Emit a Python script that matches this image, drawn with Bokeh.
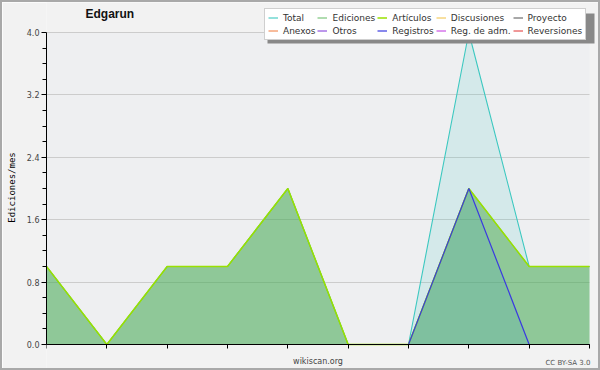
from bokeh.plotting import figure
from bokeh.models import (FixedTicker, PrintfTickFormatter, Legend, LegendItem,
                          Label, BoxAnnotation, Range1d, CustomJSTickFormatter)
from bokeh.embed import file_html
from bokeh.resources import INLINE

# ---- data ----
months = [0, 1, 2, 3, 4, 5, 6, 7, 8, 9]
total = [1, 0, 1, 1, 2, 0, 0, 4, 1, 1]
ediciones = [1, 0, 1, 1, 2, 0, 0, 2, 1, 1]
articulos = [1, 0, 1, 1, 2, 0, 0, 2, 1, 1]
discusiones = [0, 0, 0, 0, 0, 0, 0, 0, 0, 0]
proyecto = [0, 0, 0, 0, 0, 0, 0, 0, 0, 0]
anexos = [0, 0, 0, 0, 0, 0, 0, 0, 0, 0]
otros = [0, 0, 0, 0, 0, 0, 0, 0, 0, 0]
registros = [0, 0, 0, 0, 0, 0, 0, 2, 0, 0]
reg_adm = [0, 0, 0, 0, 0, 0, 0, 0, 0, 0]
reversiones = [0, 0, 0, 0, 0, 0, 0, 0, 0, 0]
y_ticks = [0.0, 0.8, 1.6, 2.4, 3.2, 4.0]
y_minor = [0.2, 0.4, 0.6, 1.0, 1.2, 1.4, 1.8, 2.0, 2.2, 2.6, 2.8, 3.0, 3.4, 3.6, 3.8]
x_first, x_last = months[0], months[-1]
y_low, y_high = y_ticks[0], y_ticks[-1]

B = 2                # outer border width (drawn inside the 600x370 box)
W, H = 600, 370
LEFT = 46 - B        # y-axis panel width
PX = 78.0            # pixels per y unit
p = figure(width=W, height=H, output_backend="svg", toolbar_location=None,
           x_range=Range1d(0, 9 * (W - LEFT) / 543),
           y_range=Range1d(-(H - (344 - B)) / PX, 4 + (32 - B) / PX),
           x_axis_location="above", title_location=None,
           min_border_left=LEFT, min_border_right=0, min_border_top=0,
           min_border_bottom=0)
p.styles = {"border": f"{B}px solid #a9a9a9"}
p.background_fill_color = "#f2f2f2"
p.border_fill_color = "#f2f2f2"
p.outline_line_color = None

# plotting area background
plot_bg = BoxAnnotation(left=x_first, right=x_last, bottom=y_low, top=y_high,
                        fill_color="#eeeff1", fill_alpha=1, line_color=None,
                        level="image")
p.add_layout(plot_bg)

# zero series first (hidden under the axis line)
r_disc = p.line(months, discusiones, line_color="#f0c040", line_width=1)
r_proy = p.line(months, proyecto, line_color="#505050", line_width=1)
r_anex = p.line(months, anexos, line_color="#f07838", line_width=1)
r_otros = p.line(months, otros, line_color="#7a30d8", line_width=1)
r_regadm = p.line(months, reg_adm, line_color="#c030e0", line_width=1)
r_rev = p.line(months, reversiones, line_color="#e03030", line_width=1)

# areas and lines
p.varea(x=months, y1=0, y2=total, fill_color="#40c8c0", fill_alpha=0.15)
r_total = p.line(months, total, line_color="#3cc8c0", line_width=1.1)
p.varea(x=months, y1=0, y2=ediciones, fill_color="#4aa845", fill_alpha=0.5)
r_edic = p.line(months, ediciones, line_color="#70c070", line_width=1.1)
r_art = p.line(months, articulos, line_color="#99e000", line_width=1.5)
p.varea(x=months, y1=0, y2=registros, fill_color="#40a0c0", fill_alpha=0.2)
r_reg = p.line(months, registros, line_color="#3a3ae0", line_width=1.2)

# axes
yax = p.yaxis[0]
yax.bounds = (y_low, y_high)
yax.ticker = FixedTicker(ticks=y_ticks, minor_ticks=y_minor)
yax.formatter = PrintfTickFormatter(format="%.1f")
yax.major_label_text_font = "DejaVu Sans"
yax.major_label_text_font_size = "8px"
yax.major_label_text_color = "#444444"
yax.major_label_standoff = 2
yax.axis_line_color = "black"
yax.major_tick_line_color = "black"
yax.minor_tick_line_color = "black"
yax.major_tick_out = 5
yax.major_tick_in = 0
yax.minor_tick_out = 4
yax.minor_tick_in = 0
yax.axis_label = "Ediciones/mes"
yax.axis_label_text_font = "DejaVu Sans Mono"
yax.axis_label_text_font_size = "9px"
yax.axis_label_text_font_style = "normal"
yax.axis_label_text_color = "black"
yax.axis_label_standoff = 7

xax = p.xaxis[0]
xax.fixed_location = 0
xax.bounds = (x_first, x_last)
xax.ticker = FixedTicker(ticks=months, minor_ticks=[])
xax.formatter = CustomJSTickFormatter(code="return ''")
xax.major_label_text_font_size = "1px"
xax.major_label_standoff = 0
xax.major_tick_out = 0
xax.major_tick_in = 4
xax.axis_line_color = "black"
xax.major_tick_line_color = "black"

p.xgrid.grid_line_color = None
ygrid = p.ygrid[0]
ygrid.ticker = FixedTicker(ticks=y_ticks)
ygrid.grid_line_color = "#cccccc"
if "cross_bounds" in ygrid.properties():
    ygrid.cross_bounds = (x_first, x_last)

# texts
title = Label(x=x_first, y=y_high, x_offset=39, y_offset=19, text="Edgarun",
              text_font="Liberation Sans", text_font_style="bold",
              text_font_size="12px", text_color="#111111",
              text_baseline="alphabetic")
p.add_layout(title)
site = Label(x=(x_first + x_last) / 2, y=y_low, y_offset=-12, text="wikiscan.org",
             text_align="center", text_baseline="top", text_font="DejaVu Sans",
             text_font_size="8px", text_color="#444444")
p.add_layout(site)
cc = Label(x=x_last, y=y_low, x_offset=1, y_offset=-14, text="CC BY-SA 3.0",
           text_align="right", text_baseline="top", text_font="DejaVu Sans",
           text_font_size="7px", text_color="#555555")
p.add_layout(cc)

# legend with drop shadow (screen units: x from frame left, y up from frame bottom)
LX, LY, LW, LH = 218, H - (40 - B), 327, 30
shadow = BoxAnnotation(left=LX + 3, right=LX + LW + 3, top=LY + LH - 3, bottom=LY - 3,
                       left_units="screen", right_units="screen",
                       top_units="screen", bottom_units="screen",
                       fill_color="#888888", fill_alpha=1, line_color=None)
p.add_layout(shadow)

names = ["Total", "Ediciones", "Artículos", "Discusiones", "Proyecto",
         "Anexos", "Otros", "Registros", "Reg. de adm.", "Reversiones"]
rends = [r_total, r_edic, r_art, r_disc, r_proy,
         r_anex, r_otros, r_reg, r_regadm, r_rev]
legend = Legend(items=[LegendItem(label=n, renderers=[r]) for n, r in zip(names, rends)],
                orientation="horizontal", ncols=5, location=(LX, LY))
legend.label_text_font = "DejaVu Sans"
legend.label_text_font_size = "9px"
legend.label_text_color = "#333333"
legend.glyph_width = 10
legend.glyph_height = 11
legend.label_height = 11
legend.label_standoff = 5
legend.spacing = 2
legend.padding = 3
legend.margin = 0
legend.border_line_color = "#a0a0a0"
legend.background_fill_color = "white"
legend.background_fill_alpha = 1
p.add_layout(legend, "center")

open("out.html", "w").write(file_html(p, INLINE))
